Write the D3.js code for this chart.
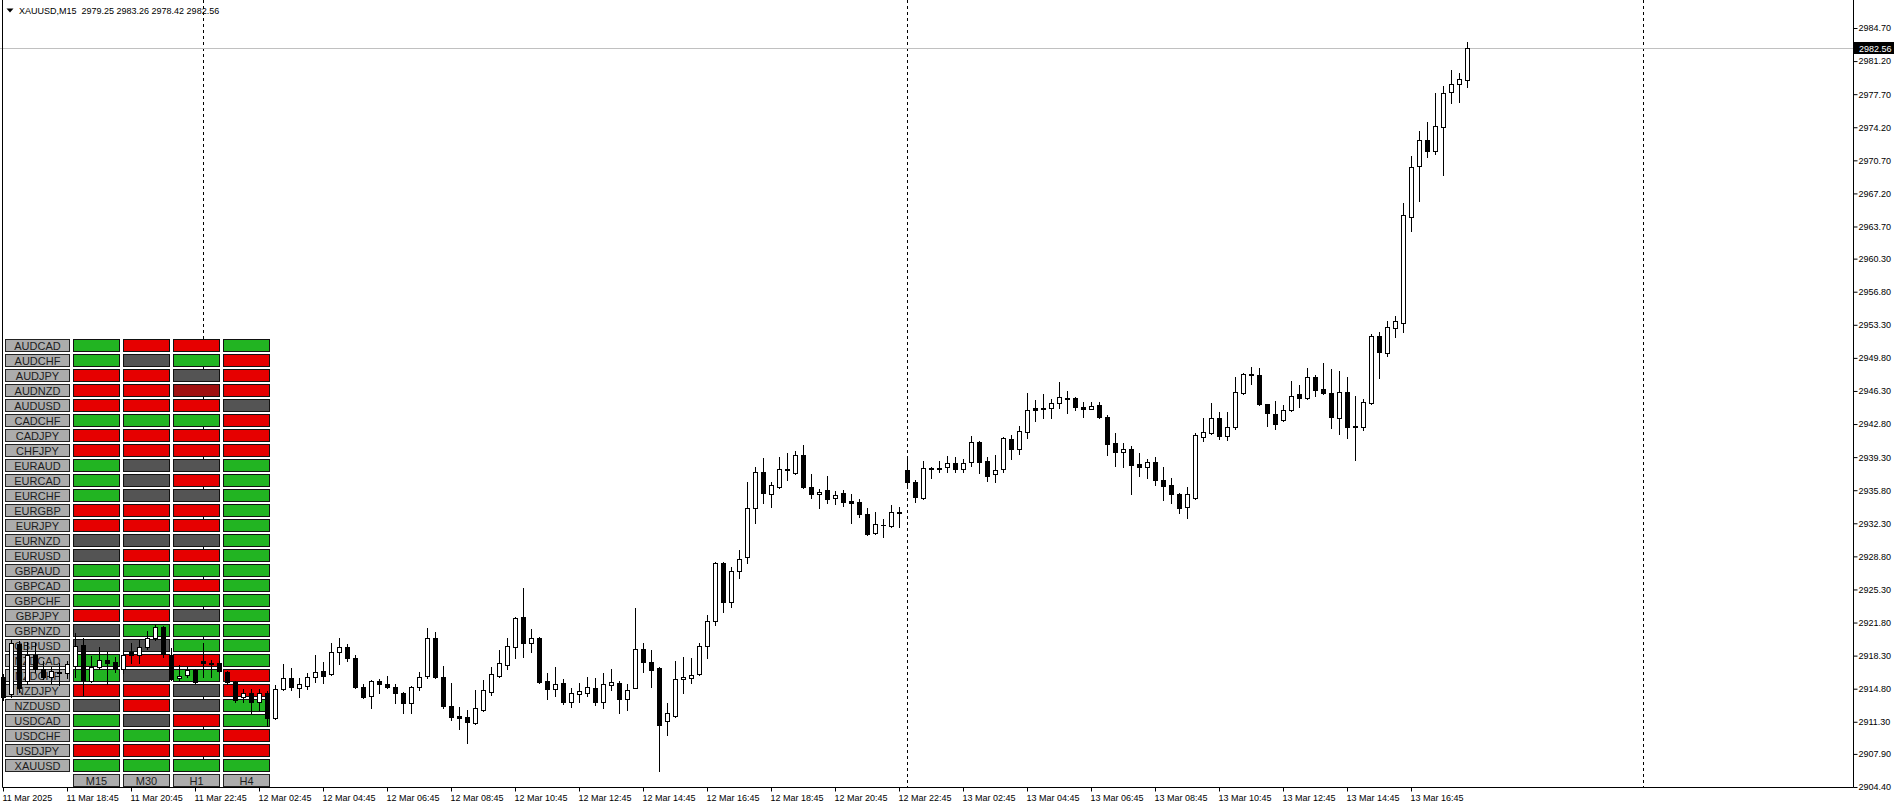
<!DOCTYPE html>
<html><head><meta charset="utf-8">
<script src="https://cdn.jsdelivr.net/npm/d3@7"></script>
<style>
html,body{margin:0;padding:0;background:#fff;overflow:hidden;}
svg{display:block;font-family:"Liberation Sans",Arial,sans-serif;}
</style>
</head><body>
<svg id="c" width="1898" height="810"></svg>
<script>
// ---------------- DATA ----------------
const symbolTitle = "XAUUSD,M15";
const opens = [2916.03,2914.23,2919.52,2915.61,2918.36,2916.88,2916.03,2916.56,2916.46,2917.20,2919.42,2915.61,2917.09,2917.83,2917.62,2916.88,2918.68,2918.36,2919.21,2920.16,2921.32,2918.36,2915.93,2916.24,2916.77,2917.73,2917.51,2917.51,2916.56,2915.50,2913.92,2914.34,2913.39,2914.34,2911.70,2914.76,2915.93,2914.87,2915.08,2916.03,2916.67,2916.35,2918.68,2919.21,2918.04,2914.98,2914.02,2915.61,2915.29,2914.98,2914.34,2913.28,2914.98,2916.14,2920.16,2916.03,2912.97,2911.91,2911.80,2911.17,2912.54,2914.45,2916.14,2917.30,2919.21,2922.38,2919.63,2920.16,2915.61,2914.76,2915.40,2913.39,2914.23,2914.34,2914.87,2913.39,2915.18,2915.40,2913.71,2914.87,2919.00,2917.62,2916.99,2911.38,2911.91,2915.82,2915.93,2916.35,2919.31,2921.96,2928.09,2923.97,2927.25,2928.73,2933.91,2937.72,2935.39,2936.13,2938.04,2937.62,2939.52,2936.13,2935.39,2935.81,2934.97,2935.50,2934.65,2934.55,2933.28,2931.27,2932.12,2932.01,2933.49,2937.93,2936.66,2934.97,2938.14,2938.20,2938.25,2938.67,2938.04,2938.78,2940.90,2938.89,2937.51,2938.04,2941.21,2940.16,2941.95,2944.49,2944.49,2944.49,2945.02,2945.55,2945.55,2944.60,2944.44,2944.81,2943.54,2940.79,2939.84,2940.16,2938.57,2938.25,2938.78,2936.87,2936.34,2935.39,2934.02,2934.97,2941.42,2941.85,2943.44,2941.53,2942.48,2946.08,2948.09,2947.99,2944.92,2943.86,2943.22,2944.28,2945.97,2945.55,2947.77,2946.50,2946.08,2943.44,2946.18,2942.59,2942.48,2945.02,2952.11,2950.31,2952.96,2953.49,2964.70,2970.10,2972.85,2971.68,2974.22,2977.93,2978.77,2979.25];
const highs = [2916.35,2919.95,2919.84,2919.74,2919.63,2917.73,2917.09,2917.51,2917.73,2920.69,2920.16,2918.26,2919.21,2918.68,2918.15,2918.89,2919.63,2919.95,2920.90,2921.53,2921.43,2919.10,2917.30,2917.09,2916.88,2919.63,2917.83,2917.73,2916.67,2915.61,2914.76,2914.76,2914.76,2914.55,2915.18,2917.41,2916.99,2915.93,2916.46,2918.36,2917.62,2919.63,2920.16,2919.52,2918.36,2915.29,2915.72,2915.82,2916.14,2915.29,2914.45,2915.08,2916.56,2921.22,2920.79,2917.20,2915.40,2912.86,2912.54,2914.66,2915.72,2917.09,2918.89,2920.16,2922.38,2925.45,2921.11,2920.26,2916.46,2917.09,2915.82,2914.87,2915.40,2916.03,2915.93,2916.46,2916.88,2915.61,2915.29,2923.33,2919.63,2918.89,2917.09,2913.28,2917.73,2918.15,2918.04,2919.63,2922.59,2928.20,2928.20,2927.67,2929.47,2936.66,2938.25,2939.20,2936.66,2939.31,2939.73,2939.94,2940.58,2937.51,2935.92,2937.30,2935.71,2935.81,2935.39,2934.86,2933.91,2933.49,2932.75,2934.23,2934.02,2939.31,2936.87,2938.89,2938.25,2938.89,2939.41,2939.31,2939.10,2941.53,2941.00,2939.31,2939.52,2941.42,2941.64,2942.59,2946.08,2945.34,2945.97,2945.45,2947.25,2946.29,2945.66,2945.13,2945.13,2945.13,2943.75,2941.85,2940.79,2940.48,2939.73,2939.10,2939.31,2938.25,2937.09,2935.50,2936.13,2941.85,2943.44,2945.02,2944.07,2944.07,2947.77,2948.20,2948.83,2948.73,2944.97,2945.23,2944.81,2947.35,2946.92,2948.73,2947.99,2949.25,2948.62,2948.41,2947.77,2945.76,2945.45,2952.32,2952.53,2953.70,2954.23,2966.18,2971.16,2973.80,2974.75,2977.82,2978.56,2980.25,2979.94,2983.26];
const lows = [2913.60,2913.92,2914.45,2915.29,2916.56,2915.82,2915.40,2915.18,2915.93,2916.03,2914.13,2915.50,2916.88,2915.29,2916.56,2916.46,2917.51,2917.51,2919.00,2919.95,2918.15,2915.72,2915.72,2916.03,2915.40,2916.03,2916.03,2916.56,2915.29,2913.39,2913.39,2912.22,2912.54,2910.85,2911.59,2914.66,2914.66,2913.92,2914.76,2915.50,2915.40,2916.24,2917.41,2917.73,2914.87,2913.81,2912.75,2914.34,2914.87,2913.28,2912.22,2912.22,2914.66,2915.93,2915.93,2912.75,2911.48,2910.53,2909.05,2911.06,2912.44,2914.13,2916.03,2916.88,2918.04,2918.15,2918.68,2915.45,2913.71,2914.02,2913.18,2912.86,2913.39,2914.02,2913.07,2912.75,2914.66,2912.22,2912.54,2914.87,2916.56,2914.98,2906.09,2909.90,2911.80,2914.34,2915.40,2916.24,2918.04,2921.53,2922.91,2923.44,2926.51,2928.09,2932.33,2934.44,2934.02,2936.02,2936.87,2937.51,2936.03,2934.97,2933.91,2934.44,2934.34,2934.13,2932.33,2932.96,2931.06,2931.16,2930.85,2931.95,2931.90,2936.34,2934.55,2934.86,2937.09,2937.72,2937.72,2937.72,2937.72,2938.36,2937.62,2936.77,2936.66,2937.72,2939.10,2939.63,2941.32,2943.12,2943.44,2943.44,2944.49,2943.97,2944.28,2943.54,2944.39,2943.49,2939.52,2938.36,2938.25,2935.39,2937.30,2937.09,2936.34,2934.76,2934.44,2933.39,2932.86,2934.86,2941.00,2941.74,2941.21,2941.11,2942.27,2945.97,2947.03,2944.86,2942.59,2942.27,2943.17,2944.23,2944.60,2945.50,2945.76,2946.03,2942.38,2941.74,2941.32,2939.00,2942.17,2944.97,2947.67,2950.00,2952.01,2952.53,2963.22,2966.39,2971.05,2971.37,2969.14,2976.76,2976.87,2978.42];
const closes = [2913.92,2919.63,2914.87,2918.36,2916.88,2916.03,2916.67,2916.50,2917.41,2919.31,2915.72,2917.09,2917.83,2917.51,2916.88,2918.36,2918.36,2919.21,2920.16,2921.32,2918.47,2915.82,2916.14,2916.77,2915.50,2917.51,2917.41,2916.67,2915.50,2913.60,2914.34,2913.39,2914.34,2911.70,2914.76,2915.93,2914.98,2915.29,2916.03,2916.56,2916.14,2918.68,2919.21,2918.04,2914.98,2913.92,2915.61,2915.29,2914.98,2914.34,2913.28,2914.98,2916.03,2920.16,2916.03,2912.97,2911.80,2911.70,2911.27,2912.75,2914.66,2916.35,2917.51,2919.31,2922.28,2919.63,2920.16,2915.50,2914.76,2915.29,2913.39,2914.34,2914.55,2914.98,2913.39,2915.29,2915.50,2913.71,2914.66,2919.00,2917.62,2916.77,2910.95,2912.22,2915.82,2916.03,2916.24,2919.31,2921.96,2928.09,2923.97,2927.25,2928.52,2933.91,2937.72,2935.50,2936.34,2938.04,2937.99,2939.52,2936.13,2935.39,2935.60,2934.86,2935.29,2934.55,2934.49,2933.28,2931.16,2932.22,2932.07,2933.49,2933.39,2936.66,2935.08,2938.14,2938.09,2938.04,2938.67,2938.04,2938.67,2940.90,2938.78,2937.30,2937.93,2941.32,2940.16,2942.06,2944.28,2944.28,2944.44,2945.02,2945.66,2945.50,2944.60,2944.44,2944.70,2943.54,2940.69,2939.84,2940.16,2938.46,2938.25,2938.78,2936.87,2936.24,2935.39,2933.91,2935.39,2941.64,2941.95,2943.44,2941.53,2942.48,2946.18,2948.09,2947.99,2944.92,2943.97,2942.80,2944.28,2945.76,2945.55,2947.77,2946.40,2946.08,2943.54,2946.18,2942.48,2942.48,2945.13,2952.11,2950.42,2953.06,2953.70,2964.91,2969.99,2972.85,2971.68,2974.33,2977.82,2978.77,2979.30,2982.56];

const timeLabelBars = [0,8,16,24,32,40,48,56,64,72,80,88,96,104,112,120,128,136,144,152,160,168,176];
const timeLabels = ["11 Mar 2025","11 Mar 18:45","11 Mar 20:45","11 Mar 22:45","12 Mar 02:45","12 Mar 04:45","12 Mar 06:45","12 Mar 08:45","12 Mar 10:45","12 Mar 12:45","12 Mar 14:45","12 Mar 16:45","12 Mar 18:45","12 Mar 20:45","12 Mar 22:45","13 Mar 02:45","13 Mar 04:45","13 Mar 06:45","13 Mar 08:45","13 Mar 10:45","13 Mar 12:45","13 Mar 14:45","13 Mar 16:45"];
const priceTicks = [2984.70,2981.20,2977.70,2974.20,2970.70,2967.20,2963.70,2960.30,2956.80,2953.30,2949.80,2946.30,2942.80,2939.30,2935.80,2932.30,2928.80,2925.30,2921.80,2918.30,2914.80,2911.30,2907.90,2904.40];
const separatorBars = [25,113,205];

const pairs = ["AUDCAD","AUDCHF","AUDJPY","AUDNZD","AUDUSD","CADCHF","CADJPY","CHFJPY","EURAUD","EURCAD","EURCHF","EURGBP","EURJPY","EURNZD","EURUSD","GBPAUD","GBPCAD","GBPCHF","GBPJPY","GBPNZD","GBPUSD","NZDCAD","NZDCHF","NZDJPY","NZDUSD","USDCAD","USDCHF","USDJPY","XAUUSD"];
const timeframes = ["M15","M30","H1","H4"];
// u = up (green), d = down (red), n = neutral (grey), s = strong down (dark red)
const signals = [
 ["u","d","d","u"],["u","n","u","d"],["d","d","n","d"],["d","d","s","d"],["d","d","d","n"],
 ["u","u","u","d"],["d","d","d","d"],["d","d","d","d"],["u","n","n","u"],["u","n","d","u"],
 ["u","n","n","u"],["d","d","d","u"],["d","d","d","u"],["n","n","n","u"],["n","d","d","u"],
 ["u","u","u","u"],["u","u","d","u"],["u","u","u","u"],["d","d","n","u"],["n","u","u","u"],
 ["n","n","u","u"],["u","d","d","u"],["u","n","u","d"],["d","d","n","d"],["n","d","n","u"],
 ["u","n","d","u"],["u","u","u","d"],["d","d","d","d"],["u","u","u","u"]
];

// ---------------- LAYOUT / STYLE ----------------
const W = 1898, H = 810;
const plotRight = 1853, plotBottom = 787, plotLeft = 2;
const signalColor = {u:"#22b422", d:"#e60000", n:"#545454", s:"#a01010"};
const font = '"Liberation Sans", Arial, sans-serif';

const svg = d3.select("#c");
const nBars = opens.length;
const x = d3.scaleLinear().domain([0, nBars - 1]).range([3, 3 + 8 * (nBars - 1)]);
const y = d3.scaleLinear().domain([2904.40, 2984.70]).range([plotBottom, 28]);

// period separators (behind everything)
svg.append("g").selectAll("line").data(separatorBars).join("line")
  .attr("x1", d => Math.round(x(d)) + 0.5).attr("x2", d => Math.round(x(d)) + 0.5)
  .attr("y1", 0).attr("y2", plotBottom)
  .attr("stroke", "#000").attr("stroke-width", 1).attr("stroke-dasharray", "3,3");

// ---------------- TABLE ----------------
const rowBand = d3.scaleBand().domain(d3.range(pairs.length + 1)).range([339, 339 + 15 * (pairs.length + 1)]);
const colBand = d3.scaleBand().domain(timeframes).range([72, 272]);
const table = svg.append("g");
const rows = table.selectAll("g.row").data(pairs).join("g").attr("class","row")
  .attr("transform", (d, i) => `translate(0,${rowBand(i)})`);
rows.append("rect").attr("x", 5.5).attr("y", 0.5).attr("width", 64).attr("height", 12)
  .attr("fill", "#acacac").attr("stroke", "#222");
rows.append("text").attr("x", 37.5).attr("y", 10.5).attr("text-anchor", "middle")
  .attr("font-size", 11).attr("font-family", font).attr("fill", "#1c1c1c").text(d => d);
rows.each(function(d, i) {
  d3.select(this).selectAll("rect.cell").data(signals[i]).join("rect").attr("class","cell")
    .attr("x", (s, j) => colBand(timeframes[j]) + 1.5).attr("y", 0.5)
    .attr("width", colBand.bandwidth() - 4).attr("height", 12)
    .attr("fill", s => signalColor[s]).attr("stroke", "#111");
});
const hdr = table.append("g").attr("transform", `translate(0,${rowBand(pairs.length)})`);
hdr.selectAll("rect").data(timeframes).join("rect")
  .attr("x", d => colBand(d) + 1.5).attr("y", 0.5).attr("width", colBand.bandwidth() - 4).attr("height", 12)
  .attr("fill", "#acacac").attr("stroke", "#222");
hdr.selectAll("text").data(timeframes).join("text")
  .attr("x", d => colBand(d) + 1.5 + (colBand.bandwidth() - 4) / 2).attr("y", 10.5)
  .attr("text-anchor", "middle").attr("font-size", 11).attr("font-family", font).attr("fill", "#1c1c1c").text(d => d);

// ---------------- CURRENT PRICE LINE ----------------
const last = closes[nBars - 1];
const yLast = Math.round(y(last)) + 0.5;
svg.append("line").attr("x1", 0).attr("x2", plotRight).attr("y1", yLast).attr("y2", yLast)
  .attr("stroke", "#c0c0c0").attr("stroke-width", 1);

// ---------------- CANDLES ----------------
const bars = d3.range(nBars).map(i => ({i, o: opens[i], h: highs[i], l: lows[i], c: closes[i]}));
const cg = svg.append("g");
cg.selectAll("rect.wick").data(bars).join("rect").attr("class","wick")
  .attr("x", d => Math.round(x(d.i))).attr("width", 1)
  .attr("y", d => Math.round(y(d.h)))
  .attr("height", d => Math.max(1, Math.round(y(d.l)) - Math.round(y(d.h)) + 1))
  .attr("fill", "#000");
cg.selectAll("rect.body").data(bars).join("rect").attr("class","body")
  .each(function(d) {
    const top = Math.round(y(Math.max(d.o, d.c)));
    const bot = Math.round(y(Math.min(d.o, d.c)));
    const cx = Math.round(x(d.i));
    const sel = d3.select(this);
    if (d.c > d.o) {
      sel.attr("x", cx - 1.5).attr("y", top + 0.5).attr("width", 4).attr("height", Math.max(1, bot - top))
        .attr("fill", "#fff").attr("stroke", "#000").attr("stroke-width", 1);
    } else {
      sel.attr("x", cx - 2).attr("y", top).attr("width", 5).attr("height", Math.max(1, bot - top + 1))
        .attr("fill", "#000");
    }
  });

// ---------------- FRAME ----------------
svg.append("path")
  .attr("d", `M${plotLeft + 0.5},0 V${plotBottom + 0.5} H${plotRight + 0.5} V0`)
  .attr("fill", "none").attr("stroke", "#000").attr("stroke-width", 1);

// ---------------- AXES ----------------
const gy = svg.append("g").attr("transform", `translate(${plotRight + 0.5},0)`)
  .call(d3.axisRight(y).tickValues(priceTicks).tickFormat(d => d.toFixed(2)).tickSize(4).tickPadding(1));
gy.select(".domain").remove();
gy.selectAll("line").attr("stroke", "#000");
gy.selectAll("text").attr("font-size", 9).attr("font-family", font).attr("fill", "#000");

const gx = svg.append("g").attr("transform", `translate(0,${plotBottom + 0.5})`)
  .call(d3.axisBottom(x).tickValues(timeLabelBars).tickFormat((d, i) => timeLabels[i]).tickSize(4).tickPadding(3));
gx.select(".domain").remove();
gx.selectAll("line").attr("stroke", "#000");
gx.selectAll("text").attr("text-anchor", "start").attr("dx", -1)
  .attr("font-size", 9).attr("font-family", font).attr("fill", "#000");

// current price label
const pl = svg.append("g").attr("transform", `translate(${plotRight + 1},${Math.round(y(last))})`);
pl.append("rect").attr("x", 0).attr("y", -6).attr("width", 40).attr("height", 12).attr("fill", "#000");
pl.append("text").attr("x", 5).attr("y", 3.5).attr("font-size", 9).attr("font-family", font)
  .attr("fill", "#fff").text(last.toFixed(2));

// ---------------- TITLE ----------------
svg.append("path").attr("d", "M6.5,8.5 L13.5,8.5 L10,12.5 Z").attr("fill", "#000");
svg.append("text").attr("x", 19).attr("y", 14).attr("font-size", 9).attr("font-family", font)
  .attr("fill", "#000").style("white-space", "pre")
  .text(`${symbolTitle}  ${opens[nBars-1].toFixed(2)} ${highs[nBars-1].toFixed(2)} ${lows[nBars-1].toFixed(2)} ${closes[nBars-1].toFixed(2)}`);
</script>
</body></html>
